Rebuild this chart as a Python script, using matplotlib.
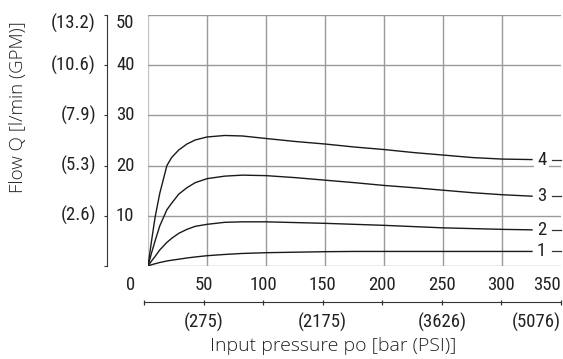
import matplotlib
matplotlib.use("Agg")
import matplotlib.pyplot as plt
import matplotlib.transforms as mtransforms

# ---------------- data ----------------
pressure = [0, 3, 6, 10, 16, 20, 26, 33, 40, 50, 65, 80, 100, 125, 150, 175,
            200, 225, 250, 275, 300, 326]
flow_1 = [0, 0.25, 0.45, 0.7, 1.0, 1.15, 1.35, 1.6, 1.8, 2.05, 2.3, 2.5, 2.65,
          2.75, 2.85, 2.9, 2.9, 2.9, 2.9, 2.9, 2.9, 2.9]
flow_2 = [0, 1.0, 1.9, 3.2, 4.7, 5.5, 6.5, 7.3, 7.9, 8.3, 8.7, 8.8, 8.8, 8.65,
          8.5, 8.3, 8.1, 7.85, 7.6, 7.45, 7.3, 7.2]
flow_3 = [0, 2.6, 5.0, 8.0, 11.2, 12.5, 14.3, 15.6, 16.6, 17.4, 17.9, 18.1,
          18.0, 17.6, 17.1, 16.6, 16.05, 15.6, 15.1, 14.6, 14.2, 13.9]
flow_4 = [0, 5.0, 9.7, 14.5, 20.0, 21.6, 23.1, 24.3, 25.1, 25.7, 26.0, 25.9,
          25.4, 24.8, 24.3, 23.7, 23.2, 22.6, 22.1, 21.6, 21.3, 21.2]
curve_names = ["1", "2", "3", "4"]

y_ticks = [10, 20, 30, 40, 50]
y_tick_labels = ["10", "20", "30", "40", "50"]
gpm_labels = ["(2.6)", "(5.3)", "(7.9)", "(10.6)", "(13.2)"]
x_ticks = [0, 50, 100, 150, 200, 250, 300, 350]
x_tick_labels = ["0", "50", "100", "150", "200", "250", "300", "350"]
psi_ticks = [50, 150, 250, 350]
psi_labels = ["(275)", "(2175)", "(3626)", "(5076)"]

xlabel = "Input pressure po [bar (PSI)]"
ylabel = "Flow Q [l/min (GPM)]"

# ---------------- figure ----------------
W, H = 563, 359
fig = plt.figure(figsize=(W / 100, H / 100), dpi=100)

narrow = ["Roboto Condensed", "Archivo Narrow", "DejaVu Sans"]
light = ["Open Sans", "DejaVu Sans"]
num_fs = 13.5
txt_col = "#222222"

def fx(px):
    return px / W

def fy(py):
    return (H - py) / H

ax = fig.add_axes([fx(148), fy(266), (561 - 148) / W, (266 - 15) / H])
ax.set_xlim(0, 350)
ax.set_ylim(0, 50)

# grid
ax.set_xticks(x_ticks[:-1])
ax.set_yticks([0] + y_ticks)
ax.grid(True, color="#9a9a9a", linewidth=1.0, zorder=0)
for i, gl in enumerate(ax.get_xgridlines()):
    if i == 0:
        gl.set_color("#c4c4c4")
for i, gl in enumerate(ax.get_ygridlines()):
    if i in (0, len(y_ticks)):
        gl.set_color("#c4c4c4")
ax.tick_params(axis="x", length=0, labelbottom=False)
ax.tick_params(axis="y", direction="out", length=2.2, width=0.8,
               color="#333333", labelleft=False)
for s in ["top", "right", "bottom"]:
    ax.spines[s].set_visible(False)
ax.spines["left"].set_position(("outward", 41 * 0.72))
ax.spines["left"].set_color("#333333")
ax.spines["left"].set_linewidth(0.8)

# curves
flows = [flow_1, flow_2, flow_3, flow_4]
for name, fl in zip(curve_names, flows):
    ax.plot(pressure, fl, color="#1a1a1a", linewidth=1.0, zorder=3,
            solid_capstyle="butt")
    ax.text(333.6, fl[-1], name, ha="center", va="center", fontsize=num_fs,
            family=narrow, color=txt_col, zorder=5,
            bbox=dict(boxstyle="square,pad=0.15", fc="white", ec="none"))
    ax.plot([342, 350], [fl[-1], fl[-1]], color="#333333", linewidth=0.9,
            clip_on=False, zorder=4)

# y labels (right of the spine) and GPM labels (left)
ty = mtransforms.blended_transform_factory(fig.transFigure, ax.transData)
for v, lab, gpm in zip(y_ticks, y_tick_labels, gpm_labels):
    yy = v if v < 50 else 48.4
    fig.text(fx(116), yy, lab, transform=ty, ha="left", va="center",
             fontsize=num_fs, family=narrow, color=txt_col)
    fig.text(fx(96), yy, gpm, transform=ty, ha="right", va="center",
             fontsize=num_fs, family=narrow, color=txt_col)

fig.text(fx(18), fy(107), ylabel, rotation=90, ha="center", va="center",
         fontsize=13.5, family=light, fontweight="light", color="#222222")

# bottom pressure axis
axb = fig.add_axes([fx(144), fy(302), (561 - 144) / W, 0.0001])
axb.set_xlim(0, 350)
axb.set_ylim(0, 1)
axb.patch.set_visible(False)
for s in ["top", "right", "left"]:
    axb.spines[s].set_visible(False)
axb.spines["bottom"].set_color("#333333")
axb.spines["bottom"].set_linewidth(0.8)
axb.set_yticks([])
axb.set_xticks(x_ticks)
axb.tick_params(axis="x", direction="inout", length=3.6, width=0.9,
                color="#333333", labelbottom=False)

tx = mtransforms.blended_transform_factory(axb.transData, fig.transFigure)
for v, lab in zip(x_ticks, x_tick_labels):
    xx = v
    if v == 0:
        xx = -10.9
    elif v == 350:
        xx = 338.2
    fig.text(xx, fy(285), lab, transform=tx, ha="center", va="center",
             fontsize=num_fs, family=narrow, color=txt_col)
for v, lab in zip(psi_ticks, psi_labels):
    xx = v if v < 350 else 329.5
    fig.text(xx, fy(322), lab, transform=tx, ha="center", va="center",
             fontsize=num_fs, family=narrow, color=txt_col)

fig.text(fx(333.5), fy(346), xlabel, ha="center", va="center", fontsize=14,
         family=light, fontweight="light", color="#222222")

fig.savefig("out.png", dpi=100)
